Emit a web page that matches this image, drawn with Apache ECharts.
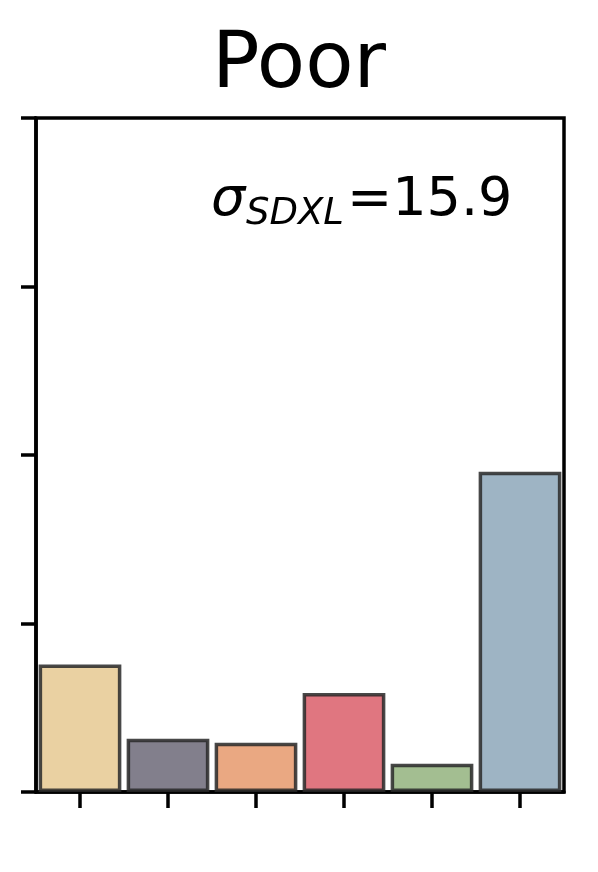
<!DOCTYPE html>
<html>
<head>
<meta charset="utf-8">
<script src="https://cdn.jsdelivr.net/npm/echarts@6/dist/echarts.min.js"></script>
<style>
html,body{margin:0;padding:0;background:#fff;}
#chart{width:598px;height:872px;}
</style>
</head>
<body>
<div id="chart"></div>
<script>
const titleText = 'Poor';
const categories = ['1', '2', '3', '4', '5', '6'];
const values = [18.9, 7.9, 7.3, 14.7, 4.2, 47.5];
const barColors = ['#EAD1A2', '#827F8C', '#EAA882', '#E07680', '#A3BE91', '#9EB4C4'];
const yTicks = [0, 25, 50, 75, 100];
const sigmaLabel = { symbol: 'σ', sub: 'SDXL', value: '=15.9' };

const chart = echarts.init(document.getElementById('chart'), null, { renderer: 'canvas' });
const font = 'DejaVu Sans';
chart.setOption({
  animation: false,
  backgroundColor: '#ffffff',
  title: {
    text: titleText,
    left: 'center',
    top: 22,
    textStyle: { fontFamily: font, fontSize: 79, fontWeight: 'normal', color: '#000' }
  },
  grid: { left: 36, right: 34, top: 118, bottom: 80, show: true, borderColor: '#000', borderWidth: 3.5, backgroundColor: 'transparent' },
  xAxis: {
    type: 'category',
    data: categories,
    boundaryGap: true,
    axisLine: { show: true, lineStyle: { color: '#000', width: 3.5 } },
    axisTick: { show: true, alignWithLabel: true, interval: 0, length: 16, lineStyle: { color: '#000', width: 3.5 } },
    axisLabel: { show: false },
    splitLine: { show: false }
  },
  yAxis: {
    type: 'value',
    min: yTicks[0],
    max: yTicks[yTicks.length - 1],
    interval: yTicks[1] - yTicks[0],
    axisLine: { show: true, lineStyle: { color: '#000', width: 3.5 } },
    axisTick: { show: true, length: 15, lineStyle: { color: '#000', width: 3.5 } },
    axisLabel: { show: false },
    splitLine: { show: false }
  },
  series: [{
    type: 'bar',
    barWidth: '94%',
    data: values.map((v, i) => ({ value: v, itemStyle: { color: barColors[i] } })),
    itemStyle: { borderColor: 'rgba(40,40,40,0.85)', borderWidth: 3.5 }
  }],
  graphic: [
    { type: 'text', left: 211, top: 174, style: { text: sigmaLabel.symbol, font: 'italic 54px "DejaVu Sans"', fill: '#000' } },
    { type: 'text', left: 246, top: 196, style: { text: sigmaLabel.sub, font: 'italic 37px "DejaVu Sans"', fill: '#000' } },
    { type: 'text', left: 347, top: 174, style: { text: sigmaLabel.value, font: '54px "DejaVu Sans"', fill: '#000' } }
  ]
});
</script>
</body>
</html>
